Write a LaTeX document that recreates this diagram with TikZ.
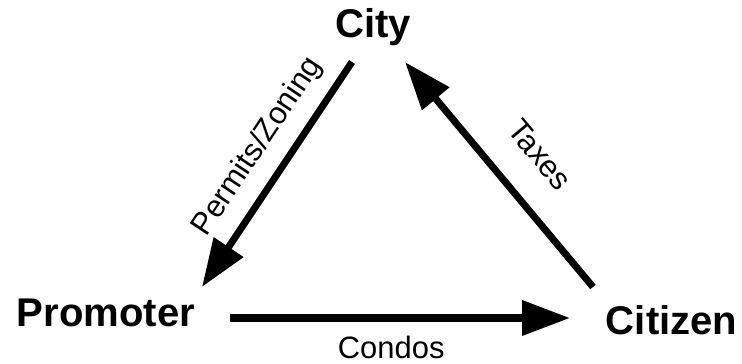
\documentclass[tikz,border=0pt]{standalone}
\usepackage{fontspec}
\setmainfont{Liberation Sans}
\usetikzlibrary{arrows.meta}

\begin{document}
\begin{tikzpicture}[
  party/.style={font=\fontsize{28.5}{30}\selectfont\bfseries,inner sep=0pt,anchor=base},
  lbl/.style={font=\fontsize{22}{24}\selectfont,inner sep=0pt},
  flow/.style={line width=5pt,-{Triangle[length=1.2cm,width=0.85cm]}},
]
\useasboundingbox (0,0) rectangle (18.55,9.1);
% the three parties
\node[party] (city) at (9.33,8.15) {City};
\node[party] (promoter) at (2.65,0.925) {Promoter};
\node[party] (citizen) at (16.79,0.725) {Citizen};
% arrow ends
\coordinate (cityout) at (8.8,7.55);
\coordinate (promin) at (5.05,1.925);
\coordinate (promout) at (5.75,1.15);
\coordinate (citzin) at (14.25,1.15);
\coordinate (citzout) at (14.825,1.925);
\coordinate (cityin) at (10.125,7.55);
\draw[flow] (cityout) -- (promin);
\draw[flow] (promout) -- (citzin);
\draw[flow] (citzout) -- (cityin);
% what flows
\node[lbl,rotate=56.3] (permits) at (6.45,5.425) {Permits/Zoning};
\node[lbl,rotate=-50.1] (taxes) at (13.5,5.225) {Taxes};
\node[lbl,anchor=base] (condos) at (9.78,0.13) {Condos};
\end{tikzpicture}
\end{document}
